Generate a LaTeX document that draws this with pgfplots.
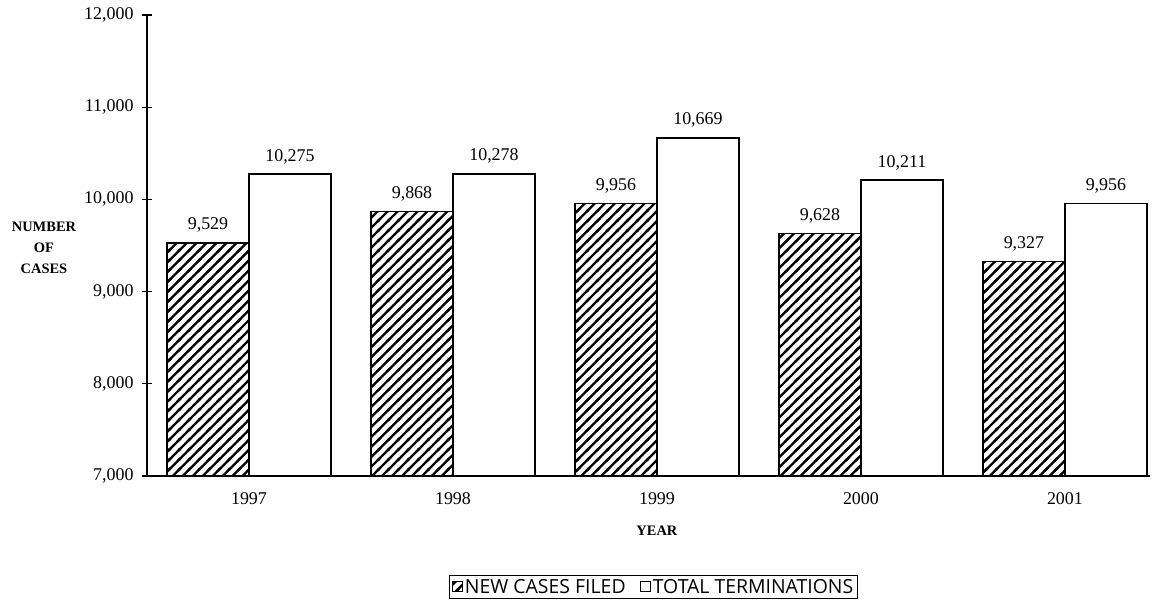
\documentclass[border=0pt]{standalone}
\usepackage{pgfplots}
\pgfplotsset{compat=1.18}
\usepackage{fontspec}
\setmainfont{Liberation Serif}
\newfontfamily\legfont{Open Sans}
\usetikzlibrary{patterns}
\pgfdeclarepatternformonly{bighatch}{\pgfqpoint{-1pt}{-1pt}}{\pgfqpoint{11pt}{11pt}}{\pgfqpoint{10pt}{10pt}}{%
  \pgfsetlinewidth{2.3pt}%
  \pgfpathmoveto{\pgfqpoint{-2pt}{-2pt}}\pgfpathlineto{\pgfqpoint{12pt}{12pt}}%
  \pgfpathmoveto{\pgfqpoint{-12pt}{-2pt}}\pgfpathlineto{\pgfqpoint{2pt}{12pt}}%
  \pgfpathmoveto{\pgfqpoint{8pt}{-2pt}}\pgfpathlineto{\pgfqpoint{22pt}{12pt}}%
  \pgfusepath{stroke}}

\pgfplotstableread{
x new total
0 9529 10275
1 9868 10278
2 9956 10669
3 9628 10211
4 9327 9956
}\casedata

\begin{document}
\begin{tikzpicture}
\begin{axis}[
  scale only axis,
  width=1003bp, height=461bp,
  xmin=-0.5, xmax=4.417,
  ymin=7000, ymax=12000,
  ytick={7000,8000,9000,10000,11000,12000},
  scaled y ticks=false,
  xtick=data,
  xticklabels={1997,1998,1999,2000,2001},
  axis x line*=bottom, axis y line*=left,
  axis line style={line width=1.4bp, black},
  x tick style={draw=none},
  y tick style={line width=1.2bp, black},
  tick align=center,
  major tick length=10bp,
  /pgf/number format/assume math mode=true,
  /pgf/number format/.cd, 1000 sep={,}, fixed, precision=0, /pgfplots/.cd,
  ticklabel style={font=\fontsize{18}{21}\selectfont},
  xticklabel style={yshift=-3bp},
  yticklabel style={xshift=-5bp},
  ybar=0pt,
  bar width=82bp,
  nodes near coords,
  every node near coord/.append style={font=\fontsize{18}{21}\selectfont, yshift=6bp},
  xlabel={\textbf{YEAR}},
  xlabel style={font=\fontsize{14.5}{17}\selectfont, at={(axis description cs:0.5085,-0.119)}, anchor=center},
  legend columns=2,
  legend style={at={(0.505,-0.215)}, anchor=north, draw=black, line width=0.8bp,
    font=\legfont\fontsize{19.5}{22}\selectfont, inner xsep=2bp, inner ysep=1.5bp,
    /tikz/every even column/.append style={column sep=12bp}},
  legend image code/.code={\draw[#1, line width=1.2bp] (0bp,-5bp) rectangle (10bp,5bp);},
  clip=false,
]
\addplot[draw=black, line width=1.6bp, pattern=bighatch, pattern color=black] table[x=x, y=new] {\casedata};
\addplot[draw=black, line width=1.6bp, fill=white] table[x=x, y=total] {\casedata};
\legend{NEW CASES FILED, TOTAL TERMINATIONS}
\node[align=center, font=\bfseries\fontsize{14.5}{21}\selectfont] at (rel axis cs:-0.1027,0.4946) {NUMBER\\OF\\CASES};
\end{axis}
\pgfresetboundingbox
\path ([xshift=-147bp,yshift=-133bp]current axis.south west) rectangle ([xshift=13bp,yshift=15bp]current axis.north east);
\end{tikzpicture}
\end{document}
